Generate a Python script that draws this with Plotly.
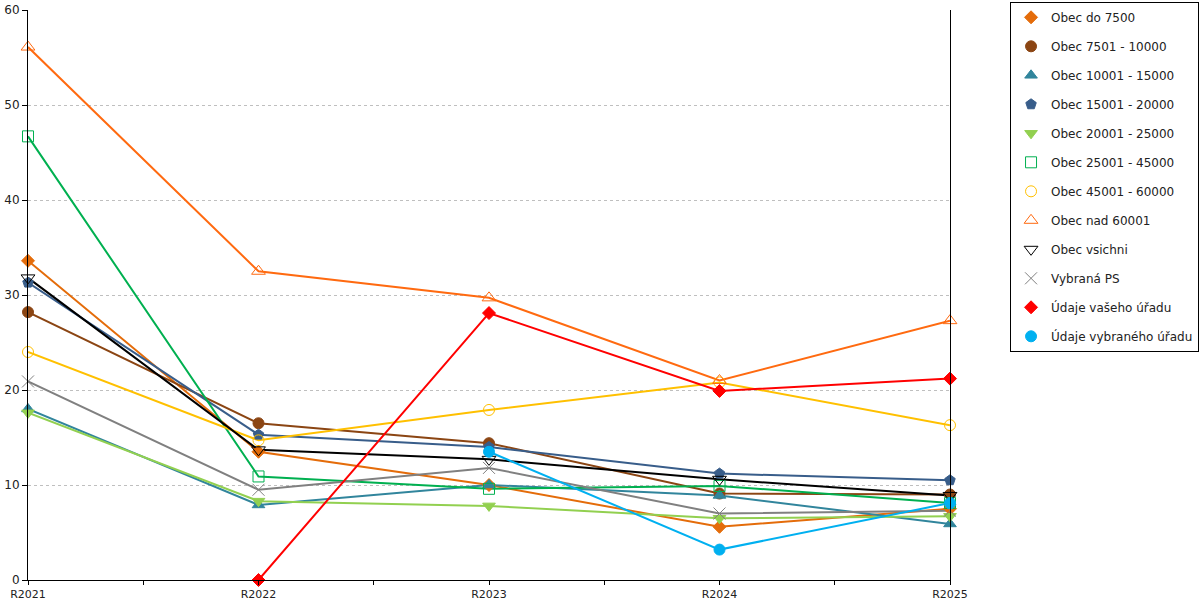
import plotly.graph_objects as go

# ===== DATA =====
years = ['R2021', 'R2022', 'R2023', 'R2024', 'R2025']
x_idx = [0, 1, 2, 3, 4]

obec_do_7500 = [33.6, 13.5, 10.0, 5.6, 7.5]
obec_7501_10000 = [28.2, 16.5, 14.4, 9.1, 9.0]
obec_10001_15000 = [18.0, 7.9, 10.0, 8.9, 5.9]
obec_15001_20000 = [31.3, 15.3, 14.0, 11.2, 10.5]
obec_20001_25000 = [17.6, 8.3, 7.8, 6.5, 6.7]
obec_25001_45000 = [46.7, 10.9, 9.6, 9.9, 8.1]
obec_45001_60000 = [24.0, 14.7, 17.9, 20.8, 16.3]
obec_nad_60001 = [56.1, 32.5, 29.7, 21.0, 27.3]
obec_vsichni = [31.8, 13.7, 12.7, 10.6, 8.9]
vybrana_ps = [20.9, 9.5, 11.8, 7.0, 7.3]
udaje_vaseho = [None, 0.0, 28.1, 19.9, 21.2]
udaje_vybraneho = [None, None, 13.5, 3.2, 8.1]

# name, values, colour, symbol, size
series = [
    ('Obec do 7500', obec_do_7500, '#E46C0A', 'diamond', 10),
    ('Obec 7501 - 10000', obec_7501_10000, '#8B4513', 'circle', 11),
    ('Obec 10001 - 15000', obec_10001_15000, '#31859C', 'triangle-up', 11),
    ('Obec 15001 - 20000', obec_15001_20000, '#385D8A', 'pentagon', 11),
    ('Obec 20001 - 25000', obec_20001_25000, '#92D050', 'triangle-down', 11),
    ('Obec 25001 - 45000', obec_25001_45000, '#00B050', 'square-open', 11),
    ('Obec 45001 - 60000', obec_45001_60000, '#FFC000', 'circle-open', 11),
    ('Obec nad 60001', obec_nad_60001, '#FF6A10', 'triangle-up-open', 12),
    ('Obec vsichni', obec_vsichni, '#000000', 'triangle-down-open', 12),
    ('Vybraná PS', vybrana_ps, '#808080', 'x-thin-open', 12),
    ('Údaje vašeho úřadu', udaje_vaseho, '#FF0000', 'diamond', 10),
    ('Údaje vybraného úřadu', udaje_vybraneho, '#00B0F0', 'circle', 11),
]

fig = go.Figure()
# lines first (no legend), then markers on top with legend entries
for name, vals, col, sym, sz in series:
    fig.add_trace(go.Scatter(
        x=x_idx, y=vals, name=name, legendgroup=name, showlegend=False,
        mode='lines', cliponaxis=False, hoverinfo='skip',
        line=dict(color=col, width=2),
    ))
for name, vals, col, sym, sz in series:
    fig.add_trace(go.Scatter(
        x=x_idx, y=vals, name=name, legendgroup=name,
        mode='markers', cliponaxis=False,
        marker=dict(color=col, symbol=sym, size=sz, line=dict(color=col, width=1)),
    ))

tick_vals = [i * 0.5 for i in range(9)]
tick_text = [years[int(v)] if v == int(v) else '' for v in tick_vals]

fig.update_layout(
    width=1200, height=600,
    margin=dict(l=28, r=250, t=10, b=20, autoexpand=False),
    paper_bgcolor='white', plot_bgcolor='white',
    font=dict(family='DejaVu Sans', size=12, color='#222222'),
    showlegend=True,
    legend=dict(xref='container', yref='container', x=0.8417, y=0.997,
                xanchor='left', yanchor='top', maxheight=1.0,
                bordercolor='black', borderwidth=1, bgcolor='white',
                font=dict(size=12), tracegroupgap=10, traceorder='grouped',
                itemwidth=30),
)
fig.update_xaxes(range=[0, 4], tickvals=tick_vals, ticktext=tick_text, automargin=False,
                 showgrid=False, zeroline=False, showline=True, linecolor='black',
                 ticks='outside', ticklen=4, tickcolor='black', tickfont=dict(size=11))
fig.update_yaxes(range=[0, 60], dtick=10, showgrid=True, gridcolor='#BFBFBF', griddash='dot',
                 automargin=False, zeroline=False, showline=True, linecolor='black', mirror=True,
                 ticks='outside', ticklen=5, tickcolor='black', tickfont=dict(size=12))

# drop the default page margin so the figure sits at the window corner
fig.write_html('out.html', config={'displayModeBar': False},
               post_script="document.body.style.margin = '0';")
